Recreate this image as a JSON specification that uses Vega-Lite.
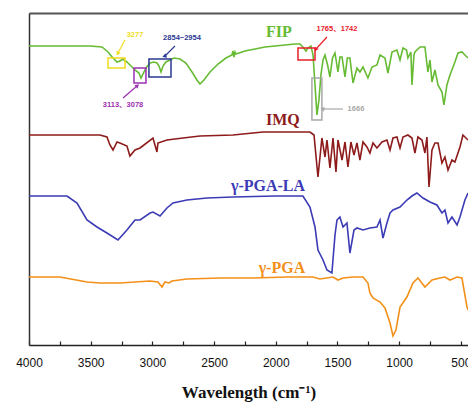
{
  "$schema": "https://vega.github.io/schema/vega-lite/v6.json",
  "width": 439,
  "height": 332,
  "autosize": {"type": "none"},
  "padding": {"left": 29, "top": 13, "right": 0, "bottom": 57},
  "background": "white",
  "config": {"view": {"stroke": null}},
  "datasets": {
    "spectra": [
      {"s":"FIP","w":4000,"t":299},{"s":"FIP","w":3749,"t":299},{"s":"FIP","w":3506,"t":299},{"s":"FIP","w":3408,"t":298},{"s":"FIP","w":3360,"t":293},{"s":"FIP","w":3319,"t":287},{"s":"FIP","w":3287,"t":283},{"s":"FIP","w":3263,"t":284},{"s":"FIP","w":3238,"t":286},{"s":"FIP","w":3206,"t":283},{"s":"FIP","w":3173,"t":279},{"s":"FIP","w":3141,"t":275},{"s":"FIP","w":3109,"t":272},{"s":"FIP","w":3092,"t":267},{"s":"FIP","w":3076,"t":271},{"s":"FIP","w":3052,"t":277},{"s":"FIP","w":3019,"t":282},{"s":"FIP","w":2987,"t":283},{"s":"FIP","w":2963,"t":282},{"s":"FIP","w":2946,"t":279},{"s":"FIP","w":2930,"t":273},{"s":"FIP","w":2914,"t":279},{"s":"FIP","w":2890,"t":283},{"s":"FIP","w":2857,"t":285},{"s":"FIP","w":2825,"t":287},{"s":"FIP","w":2776,"t":286},{"s":"FIP","w":2728,"t":282},{"s":"FIP","w":2679,"t":273},{"s":"FIP","w":2639,"t":265},{"s":"FIP","w":2614,"t":261},{"s":"FIP","w":2582,"t":265},{"s":"FIP","w":2533,"t":273},{"s":"FIP","w":2468,"t":281},{"s":"FIP","w":2404,"t":287},{"s":"FIP","w":2355,"t":290},{"s":"FIP","w":2347,"t":294},{"s":"FIP","w":2339,"t":288},{"s":"FIP","w":2330,"t":293},{"s":"FIP","w":2322,"t":291},{"s":"FIP","w":2250,"t":294},{"s":"FIP","w":2168,"t":296},{"s":"FIP","w":2087,"t":298},{"s":"FIP","w":2006,"t":299},{"s":"FIP","w":1925,"t":300},{"s":"FIP","w":1844,"t":301},{"s":"FIP","w":1804,"t":301},{"s":"FIP","w":1780,"t":298},{"s":"FIP","w":1755,"t":294},{"s":"FIP","w":1739,"t":297},{"s":"FIP","w":1715,"t":299},{"s":"FIP","w":1698,"t":290},{"s":"FIP","w":1682,"t":260},{"s":"FIP","w":1666,"t":230},{"s":"FIP","w":1650,"t":245},{"s":"FIP","w":1634,"t":270},{"s":"FIP","w":1617,"t":285},{"s":"FIP","w":1601,"t":290},{"s":"FIP","w":1580,"t":280},{"s":"FIP","w":1561,"t":268},{"s":"FIP","w":1540,"t":287},{"s":"FIP","w":1520,"t":292},{"s":"FIP","w":1496,"t":273},{"s":"FIP","w":1480,"t":288},{"s":"FIP","w":1463,"t":288},{"s":"FIP","w":1439,"t":268},{"s":"FIP","w":1420,"t":287},{"s":"FIP","w":1399,"t":287},{"s":"FIP","w":1374,"t":262},{"s":"FIP","w":1342,"t":277},{"s":"FIP","w":1318,"t":273},{"s":"FIP","w":1293,"t":278},{"s":"FIP","w":1253,"t":267},{"s":"FIP","w":1220,"t":278},{"s":"FIP","w":1180,"t":280},{"s":"FIP","w":1155,"t":290},{"s":"FIP","w":1115,"t":287},{"s":"FIP","w":1091,"t":272},{"s":"FIP","w":1058,"t":293},{"s":"FIP","w":1018,"t":295},{"s":"FIP","w":993,"t":285},{"s":"FIP","w":969,"t":297},{"s":"FIP","w":940,"t":295},{"s":"FIP","w":929,"t":287},{"s":"FIP","w":905,"t":293},{"s":"FIP","w":896,"t":260},{"s":"FIP","w":880,"t":290},{"s":"FIP","w":872,"t":293},{"s":"FIP","w":831,"t":298},{"s":"FIP","w":791,"t":298},{"s":"FIP","w":767,"t":273},{"s":"FIP","w":750,"t":285},{"s":"FIP","w":734,"t":263},{"s":"FIP","w":710,"t":275},{"s":"FIP","w":685,"t":260},{"s":"FIP","w":653,"t":253},{"s":"FIP","w":637,"t":240},{"s":"FIP","w":613,"t":260},{"s":"FIP","w":588,"t":270},{"s":"FIP","w":548,"t":283},{"s":"FIP","w":523,"t":292},{"s":"FIP","w":491,"t":293},{"s":"FIP","w":467,"t":290},{"s":"FIP","w":442,"t":287},

      {"s":"IMQ","w":4000,"t":210},{"s":"IMQ","w":3749,"t":210},{"s":"IMQ","w":3425,"t":210},{"s":"IMQ","w":3368,"t":208},{"s":"IMQ","w":3344,"t":200},{"s":"IMQ","w":3319,"t":195},{"s":"IMQ","w":3287,"t":203},{"s":"IMQ","w":3263,"t":202},{"s":"IMQ","w":3206,"t":199},{"s":"IMQ","w":3182,"t":189},{"s":"IMQ","w":3141,"t":195},{"s":"IMQ","w":3100,"t":197},{"s":"IMQ","w":2995,"t":207},{"s":"IMQ","w":2963,"t":193},{"s":"IMQ","w":2955,"t":202},{"s":"IMQ","w":2882,"t":205},{"s":"IMQ","w":2752,"t":207},{"s":"IMQ","w":2614,"t":209},{"s":"IMQ","w":2347,"t":210},{"s":"IMQ","w":2104,"t":213},{"s":"IMQ","w":1780,"t":213},{"s":"IMQ","w":1723,"t":213},{"s":"IMQ","w":1690,"t":210},{"s":"IMQ","w":1658,"t":168},{"s":"IMQ","w":1626,"t":207},{"s":"IMQ","w":1601,"t":188},{"s":"IMQ","w":1585,"t":205},{"s":"IMQ","w":1561,"t":177},{"s":"IMQ","w":1536,"t":207},{"s":"IMQ","w":1512,"t":173},{"s":"IMQ","w":1496,"t":205},{"s":"IMQ","w":1463,"t":185},{"s":"IMQ","w":1439,"t":203},{"s":"IMQ","w":1415,"t":178},{"s":"IMQ","w":1391,"t":203},{"s":"IMQ","w":1366,"t":190},{"s":"IMQ","w":1342,"t":202},{"s":"IMQ","w":1318,"t":185},{"s":"IMQ","w":1293,"t":203},{"s":"IMQ","w":1261,"t":198},{"s":"IMQ","w":1237,"t":192},{"s":"IMQ","w":1212,"t":202},{"s":"IMQ","w":1180,"t":197},{"s":"IMQ","w":1139,"t":203},{"s":"IMQ","w":1099,"t":205},{"s":"IMQ","w":1074,"t":195},{"s":"IMQ","w":1050,"t":207},{"s":"IMQ","w":1018,"t":208},{"s":"IMQ","w":993,"t":197},{"s":"IMQ","w":969,"t":208},{"s":"IMQ","w":929,"t":210},{"s":"IMQ","w":896,"t":207},{"s":"IMQ","w":872,"t":192},{"s":"IMQ","w":848,"t":208},{"s":"IMQ","w":815,"t":205},{"s":"IMQ","w":791,"t":192},{"s":"IMQ","w":775,"t":208},{"s":"IMQ","w":758,"t":158},{"s":"IMQ","w":734,"t":195},{"s":"IMQ","w":710,"t":202},{"s":"IMQ","w":685,"t":202},{"s":"IMQ","w":653,"t":182},{"s":"IMQ","w":629,"t":188},{"s":"IMQ","w":604,"t":175},{"s":"IMQ","w":572,"t":185},{"s":"IMQ","w":548,"t":183},{"s":"IMQ","w":507,"t":198},{"s":"IMQ","w":483,"t":210},{"s":"IMQ","w":442,"t":205},

      {"s":"γ-PGA-LA","w":4000,"t":149},{"s":"γ-PGA-LA","w":3692,"t":149},{"s":"γ-PGA-LA","w":3611,"t":142},{"s":"γ-PGA-LA","w":3530,"t":125},{"s":"γ-PGA-LA","w":3449,"t":118},{"s":"γ-PGA-LA","w":3368,"t":112},{"s":"γ-PGA-LA","w":3279,"t":105},{"s":"γ-PGA-LA","w":3206,"t":115},{"s":"γ-PGA-LA","w":3141,"t":125},{"s":"γ-PGA-LA","w":3100,"t":125},{"s":"γ-PGA-LA","w":3019,"t":132},{"s":"γ-PGA-LA","w":2995,"t":133},{"s":"γ-PGA-LA","w":2938,"t":129},{"s":"γ-PGA-LA","w":2882,"t":137},{"s":"γ-PGA-LA","w":2833,"t":142},{"s":"γ-PGA-LA","w":2720,"t":145},{"s":"γ-PGA-LA","w":2557,"t":147},{"s":"γ-PGA-LA","w":2347,"t":148},{"s":"γ-PGA-LA","w":2000,"t":149},{"s":"γ-PGA-LA","w":1780,"t":149},{"s":"γ-PGA-LA","w":1723,"t":138},{"s":"γ-PGA-LA","w":1682,"t":118},{"s":"γ-PGA-LA","w":1658,"t":95},{"s":"γ-PGA-LA","w":1617,"t":85},{"s":"γ-PGA-LA","w":1585,"t":75},{"s":"γ-PGA-LA","w":1545,"t":72},{"s":"γ-PGA-LA","w":1520,"t":110},{"s":"γ-PGA-LA","w":1504,"t":125},{"s":"γ-PGA-LA","w":1480,"t":128},{"s":"γ-PGA-LA","w":1455,"t":118},{"s":"γ-PGA-LA","w":1423,"t":122},{"s":"γ-PGA-LA","w":1399,"t":92},{"s":"γ-PGA-LA","w":1366,"t":115},{"s":"γ-PGA-LA","w":1342,"t":117},{"s":"γ-PGA-LA","w":1293,"t":115},{"s":"γ-PGA-LA","w":1237,"t":117},{"s":"γ-PGA-LA","w":1180,"t":118},{"s":"γ-PGA-LA","w":1155,"t":125},{"s":"γ-PGA-LA","w":1131,"t":107},{"s":"γ-PGA-LA","w":1099,"t":122},{"s":"γ-PGA-LA","w":1074,"t":132},{"s":"γ-PGA-LA","w":1050,"t":135},{"s":"γ-PGA-LA","w":993,"t":138},{"s":"γ-PGA-LA","w":937,"t":145},{"s":"γ-PGA-LA","w":896,"t":149},{"s":"γ-PGA-LA","w":856,"t":152},{"s":"γ-PGA-LA","w":807,"t":147},{"s":"γ-PGA-LA","w":750,"t":143},{"s":"γ-PGA-LA","w":694,"t":140},{"s":"γ-PGA-LA","w":653,"t":132},{"s":"γ-PGA-LA","w":629,"t":135},{"s":"γ-PGA-LA","w":604,"t":122},{"s":"γ-PGA-LA","w":572,"t":128},{"s":"γ-PGA-LA","w":531,"t":120},{"s":"γ-PGA-LA","w":507,"t":128},{"s":"γ-PGA-LA","w":467,"t":145},{"s":"γ-PGA-LA","w":442,"t":152},

      {"s":"γ-PGA","w":4000,"t":68},{"s":"γ-PGA","w":3749,"t":68},{"s":"γ-PGA","w":3530,"t":63},{"s":"γ-PGA","w":3425,"t":62},{"s":"γ-PGA","w":3263,"t":62},{"s":"γ-PGA","w":3019,"t":64},{"s":"γ-PGA","w":2955,"t":63},{"s":"γ-PGA","w":2922,"t":58},{"s":"γ-PGA","w":2898,"t":63},{"s":"γ-PGA","w":2865,"t":62},{"s":"γ-PGA","w":2841,"t":64},{"s":"γ-PGA","w":2720,"t":66},{"s":"γ-PGA","w":2452,"t":67},{"s":"γ-PGA","w":2185,"t":67},{"s":"γ-PGA","w":1909,"t":68},{"s":"γ-PGA","w":1698,"t":68},{"s":"γ-PGA","w":1642,"t":66},{"s":"γ-PGA","w":1536,"t":68},{"s":"γ-PGA","w":1496,"t":65},{"s":"γ-PGA","w":1455,"t":67},{"s":"γ-PGA","w":1374,"t":68},{"s":"γ-PGA","w":1293,"t":68},{"s":"γ-PGA","w":1253,"t":62},{"s":"γ-PGA","w":1237,"t":52},{"s":"γ-PGA","w":1212,"t":47},{"s":"γ-PGA","w":1155,"t":43},{"s":"γ-PGA","w":1115,"t":37},{"s":"γ-PGA","w":1074,"t":22},{"s":"γ-PGA","w":1050,"t":9},{"s":"γ-PGA","w":1026,"t":15},{"s":"γ-PGA","w":993,"t":38},{"s":"γ-PGA","w":937,"t":48},{"s":"γ-PGA","w":888,"t":62},{"s":"γ-PGA","w":848,"t":67},{"s":"γ-PGA","w":791,"t":58},{"s":"γ-PGA","w":734,"t":65},{"s":"γ-PGA","w":669,"t":67},{"s":"γ-PGA","w":629,"t":68},{"s":"γ-PGA","w":588,"t":65},{"s":"γ-PGA","w":531,"t":68},{"s":"γ-PGA","w":491,"t":67},{"s":"γ-PGA","w":450,"t":38},{"s":"γ-PGA","w":442,"t":35}
    ],
    "names": [
      {"tag":"FIP","w":1974,"t":313},
      {"tag":"IMQ","w":1942,"t":225},
      {"tag":"γ-PGA-LA","w":2063,"t":159},
      {"tag":"γ-PGA","w":1950,"t":77}
    ],
    "notes": [
      {"tag":"3277","w":3141,"t":310},
      {"tag":"3113、3078","w":3238,"t":240},
      {"tag":"2854~2954","w":2760,"t":307},
      {"tag":"1765、1742","w":1504,"t":316},
      {"tag":"1666","w":1350,"t":236}
    ],
    "boxes": [
      {"tag":"3277","w1":3360,"w2":3222,"t1":277,"t2":287},
      {"tag":"3113、3078","w1":3149,"w2":3052,"t1":262,"t2":277},
      {"tag":"2854~2954","w1":3028,"w2":2849,"t1":268,"t2":286},
      {"tag":"1765、1742","w1":1820,"w2":1682,"t1":285,"t2":297},
      {"tag":"1666","w1":1707,"w2":1626,"t1":225,"t2":267}
    ],
    "arrows": [
      {"tag":"3277","w1":3222,"t1":305,"w2":3279,"t2":292},
      {"tag":"3113、3078","w1":3238,"t1":247,"w2":3125,"t2":259},
      {"tag":"2854~2954","w1":2817,"t1":299,"w2":2898,"t2":289},
      {"tag":"1765、1742","w1":1585,"t1":308,"w2":1674,"t2":296},
      {"tag":"1666","w1":1455,"t1":236,"w2":1617,"t2":236}
    ]
  },
  "resolve": {"axis": {"x": "independent", "y": "independent"}},
  "layer": [
    {
      "data": {"name": "spectra"},
      "mark": {"type": "line", "strokeWidth": 1.6, "clip": true},
      "encoding": {
        "x": {"field": "w", "type": "quantitative",
              "scale": {"domain": [442, 4000], "reverse": true, "nice": false, "zero": false},
              "axis": {"orient": "bottom", "values": [4000,3750,3500,3250,3000,2750,2500,2250,2000,1750,1500,1250,1000,750,500],
                       "format": "d", "labelExpr": "datum.value % 500 == 0 ? datum.label : ''",
                       "grid": false, "tickSize": -4, "tickColor": "#222", "tickWidth": 1.2,
                       "domainColor": "#222", "domainWidth": 1.5, "labelPadding": 16,
                       "labelFont": "Liberation Sans", "labelFontSize": 12, "labelColor": "#111",
                       "labelOverlap": false, "labelBound": false, "labelFlush": false,
                       "title": "Wavelength (cm⁻¹)", "titleFont": "Liberation Serif", "titleFontSize": 17,
                       "titleFontWeight": "bold", "titleColor": "#111", "titlePadding": 16}},
        "y": {"field": "t", "type": "quantitative",
              "scale": {"domain": [0, 332], "nice": false, "zero": false},
              "axis": {"orient": "left", "ticks": false, "labels": false, "grid": false, "title": null,
                       "domainColor": "#333", "domainWidth": 1.5}},
        "color": {"field": "s", "type": "nominal",
                  "scale": {"domain": ["FIP","IMQ","γ-PGA-LA","γ-PGA","3277","3113、3078","2854~2954","1765、1742","1666"],
                            "range": ["#66bb33","#8e1b1b","#3b3bb5","#f39019","#f0dc1e","#9b30b0","#2b3990","#e8202a","#a8a8a8"]},
                  "legend": null},
        "strokeWidth": {"field": "s", "type": "nominal",
                        "scale": {"domain": ["FIP","IMQ","γ-PGA-LA","γ-PGA"], "range": [2.2, 1.5, 1.7, 1.5]},
                        "legend": null}
      }
    },
    {
      "data": {"name": "names"},
      "mark": {"type": "text", "font": "Liberation Serif", "fontWeight": "bold", "fontSize": 16, "align": "center", "baseline": "middle"},
      "encoding": {
        "x": {"field": "w", "type": "quantitative",
              "axis": {"orient": "top", "ticks": false, "labels": false, "grid": false, "title": null,
                       "domainColor": "#555", "domainWidth": 2}},
        "y": {"field": "t", "type": "quantitative", "axis": null},
        "text": {"field": "tag"},
        "color": {"field": "tag", "type": "nominal", "legend": null}
      }
    },
    {
      "data": {"name": "boxes"},
      "mark": {"type": "rect", "filled": false, "strokeWidth": 1.5},
      "encoding": {
        "x": {"field": "w1", "type": "quantitative", "axis": null},
        "x2": {"field": "w2"},
        "y": {"field": "t1", "type": "quantitative", "axis": null},
        "y2": {"field": "t2"},
        "color": {"field": "tag", "type": "nominal", "legend": null}
      }
    },
    {
      "data": {"name": "arrows"},
      "mark": {"type": "rule", "strokeWidth": 1.2},
      "encoding": {
        "x": {"field": "w1", "type": "quantitative", "axis": null},
        "x2": {"field": "w2"},
        "y": {"field": "t1", "type": "quantitative", "axis": null},
        "y2": {"field": "t2"},
        "color": {"field": "tag", "type": "nominal", "legend": null}
      }
    },
    {
      "data": {"name": "arrows"},
      "mark": {"type": "point", "shape": "triangle", "filled": true, "size": 22, "opacity": 1},
      "encoding": {
        "x": {"field": "w2", "type": "quantitative", "axis": null},
        "y": {"field": "t2", "type": "quantitative", "axis": null},
        "angle": {"field": "tag", "type": "nominal",
                  "scale": {"domain": ["3277","3113、3078","2854~2954","1765、1742","1666"], "range": [208, 49, 225, 222, 270]},
                  "legend": null},
        "color": {"field": "tag", "type": "nominal", "legend": null}
      }
    },
    {
      "data": {"name": "notes"},
      "mark": {"type": "text", "font": "Liberation Sans, Noto Sans CJK SC", "fontWeight": "bold", "fontSize": 7.5, "align": "center", "baseline": "middle"},
      "encoding": {
        "x": {"field": "w", "type": "quantitative", "axis": null},
        "y": {"field": "t", "type": "quantitative", "axis": null},
        "text": {"field": "tag"},
        "color": {"field": "tag", "type": "nominal", "legend": null}
      }
    }
  ]
}
